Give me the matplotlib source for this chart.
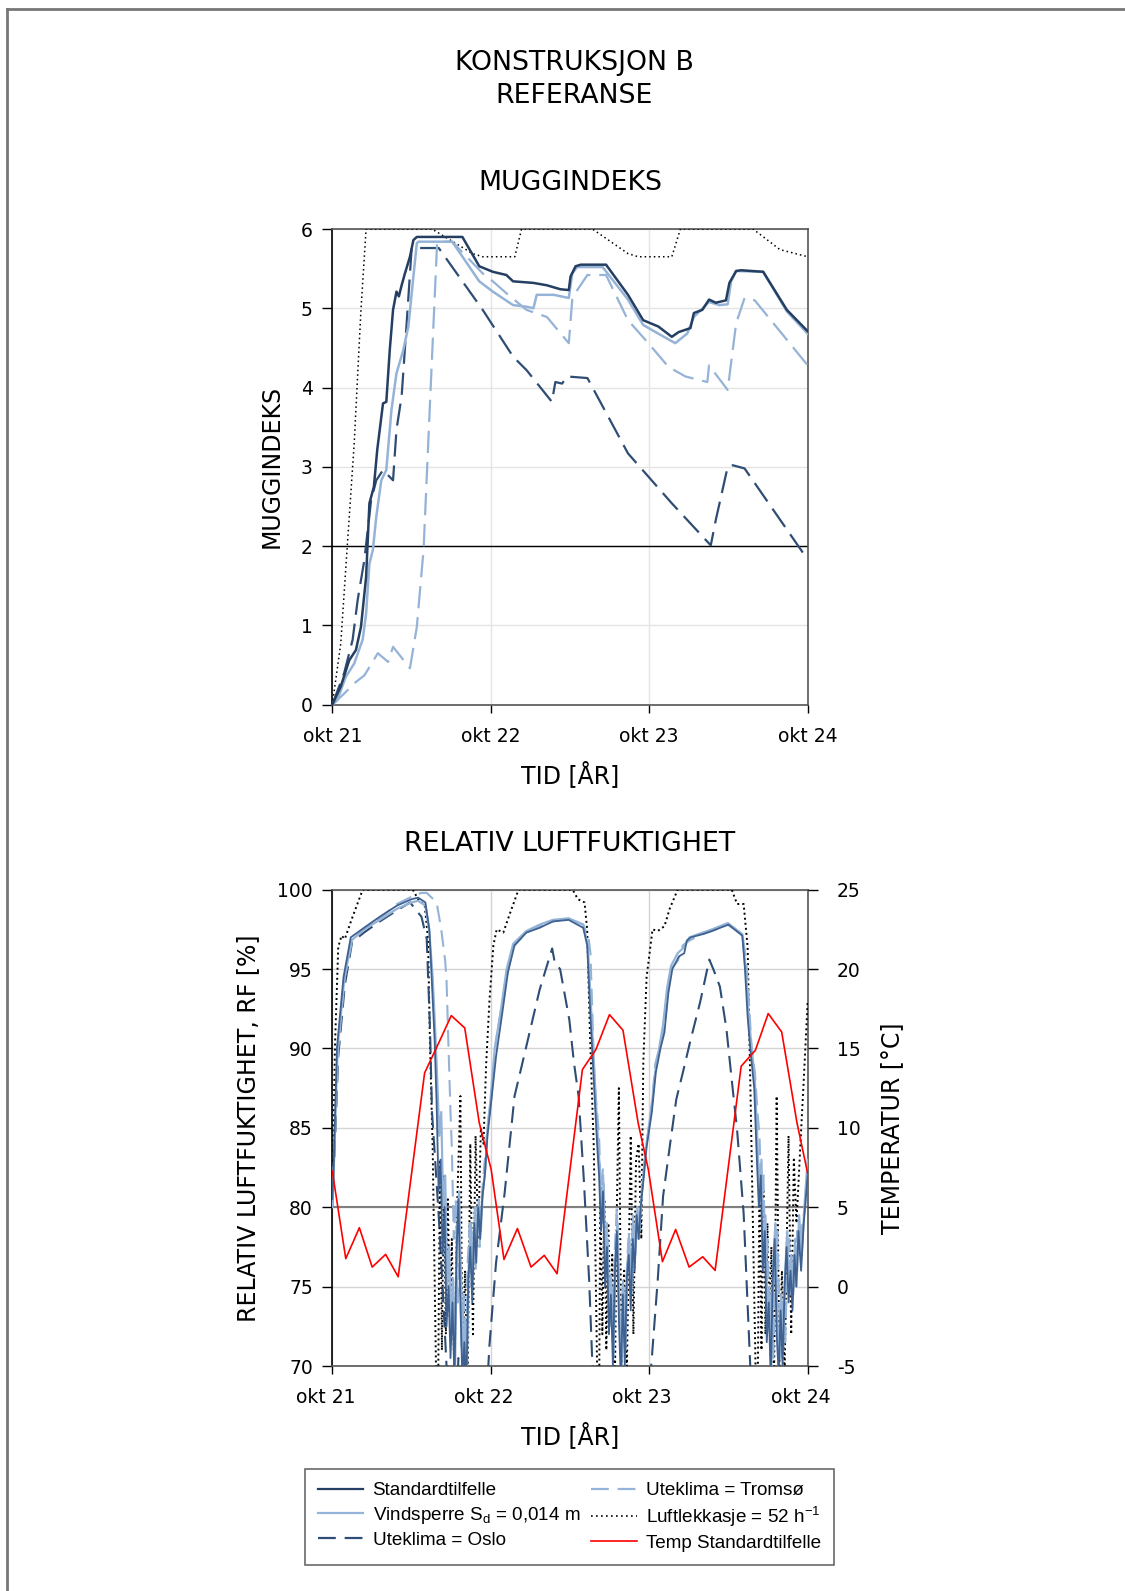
import numpy as np
import matplotlib
matplotlib.use('Agg')
import matplotlib.pyplot as plt
import matplotlib.transforms as mtransforms
from matplotlib.lines import Line2D

plt.rcParams['font.family'] = ['DejaVu Sans']
plt.rcParams['mathtext.default'] = 'regular'
plt.rcParams['axes.unicode_minus'] = False

# time axis in months from okt 21
tick_pos = [0, 12, 24, 36]
tick_lbl = ['okt 21', 'okt 22', 'okt 23', 'okt 24']

# ---- MUGGINDEKS ----
mugg_std_t = [0, 0.64, 1.28, 1.79, 2.17, 2.56, 2.81, 3.15, 3.4, 3.84, 4.09, 4.35, 4.6, 4.86, 5.04, 5.25, 5.5, 5.88,
              6.14, 6.4, 9.85, 11.13, 12.16, 13.18, 13.69, 15.23, 16.25, 17.27, 17.91, 18.04, 18.42, 18.81, 20.73,
              22.39, 23.54, 24.69, 25.71, 26.23, 27.12, 27.38, 28.02, 28.53, 29.04, 29.81, 30.07, 30.58, 30.96,
              32.63, 34.42, 36]
mugg_std = [0, 0.23, 0.56, 0.69, 0.98, 1.61, 2.54, 2.75, 3.21, 3.80, 3.82, 4.47, 4.98, 5.21, 5.15, 5.29, 5.44, 5.65,
            5.86, 5.90, 5.90, 5.53, 5.46, 5.42, 5.34, 5.32, 5.29, 5.24, 5.23, 5.40, 5.53, 5.55, 5.55,
            5.17, 4.85, 4.77, 4.64, 4.70, 4.75, 4.94, 4.98, 5.11, 5.07, 5.10, 5.32, 5.47, 5.48,
            5.46, 4.98, 4.71]

mugg_vind_t = [0, 0.38, 1.02, 1.66, 2.3, 2.56, 2.81, 3.07, 3.33, 3.71, 4.09, 4.48, 4.86, 5.37, 5.76, 6.14, 6.4, 6.53,
               9.08, 11.13, 12.16, 13.69, 14.71, 15.23, 15.48, 16.76, 17.91, 18.17, 18.55, 20.47, 22.39, 23.54,
               24.69, 25.97, 26.87, 27.38, 28.53, 29.3, 29.94, 30.2, 30.58, 32.63, 34.42, 36]
mugg_vind = [0, 0.06, 0.35, 0.52, 0.82, 1.15, 1.78, 1.95, 2.37, 2.83, 2.96, 3.72, 4.18, 4.47, 4.77, 5.40, 5.82, 5.84,
             5.84, 5.34, 5.21, 5.04, 5.02, 5.00, 5.17, 5.17, 5.13, 5.44, 5.52, 5.52, 5.11, 4.79,
             4.68, 4.56, 4.68, 4.89, 5.08, 5.04, 5.05, 5.34, 5.47, 5.46, 4.96, 4.68]

mugg_oslo_t = [0, 0.9, 1.54, 1.92, 2.43, 2.94, 3.33, 3.84, 4.6, 4.86, 5.25, 5.63, 6.01, 8.06, 11.39, 13.69, 14.71,
               16.63, 16.89, 17.4, 17.78, 19.32, 22.39, 25.71, 28.66, 29.04, 29.94, 30.33, 31.22, 36]
mugg_oslo = [0, 0.40, 0.82, 1.32, 1.83, 2.58, 2.83, 2.96, 2.83, 3.47, 3.89, 4.81, 5.76, 5.76, 4.98, 4.39, 4.22,
             3.82, 4.07, 4.05, 4.14, 4.12, 3.17, 2.54, 2.01, 2.33, 3.0, 3.02, 2.98, 1.83]

mugg_troms_t = [0, 0.9, 1.66, 2.43, 3.45, 4.22, 4.6, 5.88, 6.4, 6.91, 7.42, 7.93, 8.06, 9.08, 11.39, 12.16, 13.18,
                14.71, 16.25, 17.91, 18.17, 18.55, 19.32, 20.73, 22.39, 23.93, 25.46, 26.74, 28.4, 28.53, 29.94,
                30.58, 31.22, 31.99, 36]
mugg_troms = [0, 0.14, 0.27, 0.37, 0.65, 0.54, 0.73, 0.46, 0.98, 1.95, 3.89, 5.80, 5.84, 5.84, 5.44, 5.34, 5.19,
              4.98, 4.89, 4.56, 5.11, 5.23, 5.42, 5.42, 4.85, 4.56, 4.26, 4.14, 4.07, 4.28, 3.97,
              4.81, 5.13, 5.10, 4.28]

mugg_luft_t = [0, 0.64, 1.15, 1.66, 2.17, 2.56, 7.55, 10.62, 11.39, 13.82, 14.33, 19.7, 22.39, 23.16, 25.71, 26.36,
               31.86, 33.9, 36]
mugg_luft = [0, 0.77, 2.04, 3.30, 4.98, 6.0, 6.0, 5.69, 5.65, 5.65, 6.0, 6.0, 5.69, 5.65, 5.65, 6.0,
             6.0, 5.74, 5.65]

# ---- RELATIV LUFTFUKTIGHET ----
rf_std_t = [0.0, 0.1, 0.35, 0.85, 1.4, 2.4, 3.6, 4.9, 6.0, 6.5, 7.05, 7.35, 7.55, 7.75, 7.9, 8.05, 8.2, 8.35, 8.5,
            8.65, 8.8, 8.95, 9.1, 9.25, 9.4, 9.55, 9.7, 9.85, 10.0, 10.15, 10.3, 10.45, 10.6, 10.75, 10.9, 11.05,
            11.2, 11.35, 11.55,
            11.75, 11.95, 12.4, 12.9, 13.3, 13.8, 14.7, 15.7, 16.7, 17.9, 19.0, 19.3, 19.55, 19.8, 20.05, 20.2,
            20.35, 20.5, 20.65, 20.8, 20.95, 21.1, 21.25, 21.4, 21.55, 21.7, 21.85, 22.0, 22.15, 22.3, 22.45, 22.6,
            22.75, 22.9, 23.05, 23.2, 23.35,
            23.6, 23.8, 24.2, 24.5, 24.85, 25.15, 25.45, 25.75, 26.25, 26.65, 26.85, 27.15, 28.05, 28.75, 30.0,
            31.05, 31.25, 31.45, 31.65, 31.95, 32.15, 32.3, 32.45, 32.6, 32.75, 32.9, 33.05, 33.2, 33.35, 33.5,
            33.65, 33.8, 33.95, 34.1, 34.25, 34.4, 34.55, 34.7, 34.85, 35.0, 35.15, 35.3, 35.5, 35.7, 35.9, 36.0]
rf_std = [80.5, 82.5, 90.0, 94.5, 97.0, 97.6, 98.3, 99.0, 99.4, 99.5, 99.2, 97.5, 94.0, 90.5, 86.5, 81.0, 83.0, 77.0,
          80.0, 72.5, 75.0, 70.5, 74.0, 69.0, 77.0, 80.5, 74.0, 69.0, 71.5, 68.5, 75.5, 77.5, 74.0, 79.0, 76.5,
          80.0, 78.0, 80.5, 82.0,
          84.5, 86.0, 89.5, 92.4, 94.8, 96.5, 97.3, 97.6, 98.0, 98.1, 97.6, 96.5, 92.0, 88.0, 84.0, 82.0,
          78.5, 81.0, 75.0, 77.5, 72.0, 74.5, 70.0, 76.0, 78.5, 73.0, 69.0, 74.5, 70.0, 75.5, 77.0, 73.5,
          78.0, 76.0, 79.5, 78.0, 80.0,
          82.0, 83.8, 86.0, 88.5, 90.0, 91.0, 93.5, 95.0, 95.8, 96.0, 96.8, 97.0, 97.2, 97.4, 97.8,
          97.1, 95.0, 92.0, 90.0, 87.5, 83.0, 80.0, 82.0, 76.0, 78.5, 71.5, 74.0, 69.0, 75.5, 78.0,
          72.0, 69.5, 73.5, 70.0, 75.0, 77.5, 74.0, 76.0, 73.5, 77.0, 75.0, 78.5, 76.0, 79.0, 81.0, 82.0]

rf_vind_t = [0.0, 0.1, 0.4, 0.9, 1.45, 2.4, 3.6, 4.9, 6.0, 6.5, 7.05, 7.35, 7.6, 7.8, 7.95, 8.1, 8.25, 8.4, 8.55,
             8.7, 8.85, 9.0, 9.15, 9.3, 9.45, 9.6, 9.75, 9.9, 10.05, 10.2, 10.35, 10.5, 10.65, 10.8, 10.95, 11.1,
             11.25, 11.4, 11.6,
             11.75, 11.95, 12.3, 12.8, 13.2, 13.7, 14.7, 15.7, 16.7, 17.9, 19.0, 19.35, 19.6, 19.85, 20.1, 20.25,
             20.4, 20.55, 20.7, 20.85, 21.0, 21.15, 21.3, 21.45, 21.6, 21.75, 21.9, 22.05, 22.2, 22.35, 22.5, 22.65,
             22.8, 22.95, 23.1, 23.25, 23.4,
             23.6, 23.8, 24.2, 24.45, 24.75, 25.05, 25.35, 25.65, 26.15, 26.55, 27.05, 28.05, 28.75, 29.95, 31.05,
             31.3, 31.5, 31.7, 32.0, 32.2, 32.35, 32.5, 32.65, 32.8, 32.95, 33.1, 33.25, 33.4, 33.55, 33.7, 33.85,
             34.0, 34.15, 34.3, 34.45, 34.6, 34.75, 34.9, 35.05, 35.2, 35.35, 35.55, 35.75, 35.95, 36.0]
rf_vind = [80.0, 82.0, 90.0, 94.3, 96.8, 97.5, 98.1, 98.8, 99.2, 99.3, 99.0, 97.3, 94.5, 91.0, 88.0, 84.5, 86.0, 80.0,
           82.0, 75.0, 77.5, 72.0, 75.5, 70.0, 78.5, 81.0, 75.5, 70.5, 73.0, 70.0, 77.0, 79.0, 75.5, 80.0, 77.5,
           80.5, 78.5, 81.0, 82.5,
           85.0, 86.5, 90.0, 92.6, 95.0, 96.6, 97.4, 97.8, 98.1, 98.2, 97.8, 96.5, 92.5, 88.5, 84.5, 82.5,
           79.0, 81.5, 75.5, 78.0, 72.5, 75.0, 70.5, 77.0, 79.0, 73.5, 70.0, 75.0, 71.0, 76.5, 78.0, 74.5,
           79.0, 77.0, 80.0, 78.5, 80.5,
           82.5, 84.0, 86.5, 88.5, 90.0, 91.5, 93.8, 95.2, 96.0, 96.3, 97.0, 97.3, 97.5, 97.9, 97.2,
           95.0, 92.5, 90.5, 88.0, 84.0, 81.0, 83.0, 77.0, 79.5, 72.5, 75.0, 70.0, 76.5, 79.0, 73.0, 70.5,
           74.5, 71.0, 76.0, 78.5, 75.0, 77.0, 74.5, 78.0, 76.0, 79.5, 77.0, 80.0, 82.5, 83.0]

rf_oslo_t = [0.0, 0.15, 0.45, 0.95, 1.5, 2.4, 3.6, 4.9, 5.9, 6.25, 6.75, 7.15, 7.4, 7.55, 8.05, 8.45, 8.65, 8.95,
             9.35, 9.55, 9.7, 10.05, 10.25, 10.85, 11.5, 11.75, 11.9,
             12.4, 13.05, 13.8, 14.4, 15.7, 16.65, 16.85, 17.25, 17.95, 18.3, 18.65, 19.05, 19.45, 19.7, 20.0,
             21.0, 22.0, 23.0, 23.7,
             24.15, 24.65, 25.05, 25.55, 26.05, 26.55, 27.15, 27.85, 28.55, 28.85, 29.35, 29.85, 30.25, 30.65,
             31.15, 31.65, 32.0, 33.0, 34.5, 35.5, 36.0]
rf_oslo = [80.0, 83.0, 89.5, 94.0, 96.7, 97.3, 98.0, 98.7, 99.2, 98.8, 98.3, 96.9, 91.2, 86.0, 79.6, 73.4, 70.0, 67.0,
           66.0, 70.5, 68.0, 70.8, 68.5, 64.0, 66.0, 69.0, 71.3,
           76.5, 80.9, 87.0, 89.1, 93.7, 96.3, 95.4, 95.0, 91.8, 89.1, 87.0, 81.7, 75.4, 70.0, 64.0,
           60.0, 58.0, 60.0, 65.0,
           70.0, 75.5, 80.7, 83.8, 86.8, 88.5, 90.6, 92.9, 95.6, 95.0, 93.9, 91.2, 88.0, 84.9,
           79.6, 70.0, 64.0, 60.0, 60.0, 63.0, 66.0]

rf_troms_t = [0.0, 0.15, 0.45, 0.95, 1.5, 2.4, 3.6, 4.9, 6.1, 6.75, 7.15, 7.65, 7.9, 8.25, 8.55, 8.65, 8.8, 8.95,
              9.05, 9.2, 9.35, 9.5, 9.65, 9.8, 9.95, 10.1, 10.25, 10.4, 10.55, 10.7, 10.85, 11.0, 11.15, 11.35,
              11.55,
              11.75, 12.05, 12.4, 12.8, 13.2, 13.7, 14.7, 15.7, 16.7, 17.9, 19.0, 19.4, 19.55, 19.7, 19.85, 20.0,
              20.2, 20.35, 20.5, 20.65, 20.8, 20.95, 21.1, 21.25, 21.4, 21.55, 21.7, 21.85, 22.0, 22.15, 22.3,
              22.45, 22.6, 22.75, 22.9, 23.05, 23.2, 23.4,
              23.6, 23.8, 24.2, 24.45, 24.75, 25.05, 25.35, 25.65, 26.15, 26.55, 27.05, 28.05, 28.75, 29.95, 31.05,
              31.35, 31.55, 31.75, 32.0, 32.2, 32.35, 32.5, 32.65, 32.8, 32.95, 33.1, 33.25, 33.4, 33.55, 33.7,
              33.85, 34.0, 34.15, 34.3, 34.45, 34.6, 34.75, 34.9, 35.05, 35.2, 35.4, 35.6, 35.8, 36.0]
rf_troms = [80.0, 84.0, 90.0, 94.5, 96.8, 97.5, 98.2, 99.1, 99.6, 99.8, 99.8, 99.4, 99.2, 97.5, 95.5, 94.3, 90.1, 86.0,
            83.8, 78.0, 80.5, 74.0, 77.0, 71.0, 74.5, 70.0, 76.5, 79.0, 75.0, 78.5, 76.0, 80.0, 77.5, 81.0,
            83.0,
            85.0, 87.0, 90.5, 92.5, 94.5, 96.4, 97.3, 97.7, 98.0, 98.2, 97.8, 97.0, 96.0, 92.0, 88.0, 86.5,
            84.5, 80.5, 82.5, 76.5, 79.0, 73.0, 76.0, 71.0, 77.5, 80.0, 74.5, 70.5, 75.5, 71.5, 76.0,
            78.5, 75.0, 79.5, 77.5, 80.0, 78.0, 80.5,
            82.5, 84.0, 86.5, 89.0, 90.0, 91.0, 93.5, 95.0, 95.5, 96.5, 96.8, 97.2, 97.4, 97.8, 97.2,
            95.5, 93.0, 90.0, 88.5, 86.0, 84.5, 80.0, 82.0, 76.0, 78.0, 72.0, 74.5, 70.5, 76.5, 78.5,
            73.5, 70.5, 74.0, 71.5, 76.5, 78.0, 74.5, 77.0, 75.0, 78.5, 77.0, 79.0, 80.0, 82.5]

rf_luft_t = [0.0, 0.2, 0.45, 0.7, 0.95, 1.45, 2.3, 6.1, 6.5, 7.0, 7.25, 7.4, 7.6, 7.85, 8.0, 8.15, 8.3, 8.45, 8.6,
             8.75, 8.9, 9.05, 9.25, 9.45, 9.7, 9.85, 10.05, 10.25, 10.45, 10.65, 10.85, 11.05, 11.25, 11.45, 11.65,
             11.9, 12.2, 12.45, 12.95, 13.45, 14.1, 18.2, 18.6, 19.1, 19.3, 19.5, 19.8, 20.05, 20.2, 20.3, 20.45,
             20.6, 20.75, 20.9, 21.05, 21.2, 21.4, 21.55, 21.7, 21.9, 22.1, 22.3, 22.6, 22.8, 23.0, 23.2, 23.4,
             23.55, 23.8, 24.25, 24.65, 25.15, 25.55, 26.15, 30.25, 30.65, 31.15, 31.45, 31.65, 32.05, 32.2, 32.35,
             32.5, 32.65, 32.8, 32.95, 33.1, 33.25, 33.45, 33.65, 33.85, 34.05, 34.25, 34.55, 34.75, 34.95, 35.15,
             35.45, 35.7, 36.0]
rf_luft = [80.0, 90.1, 96.4, 97.1, 96.9, 98.1, 100.0, 100.0, 99.4, 99.0, 96.9, 90.1, 83.8, 70.0, 67.0, 83.0, 71.0,
           82.0, 72.0, 80.5, 73.0, 78.0, 69.0, 80.0, 87.0, 70.0, 76.0, 69.0, 84.0, 72.0, 84.5, 78.0, 85.0, 84.0,
           89.0, 93.0, 96.5, 97.5, 97.3, 98.5, 100.0, 100.0, 99.4, 99.2, 97.5, 91.2, 83.8, 70.0, 67.0, 82.0, 72.0,
           80.5, 71.0, 79.0, 73.0, 77.0, 69.0, 80.0, 87.5, 70.0, 76.0, 69.5, 84.5, 72.0, 83.0, 84.0, 78.0,
           89.1, 94.5, 97.5, 97.4, 97.7, 98.8, 100.0, 100.0, 99.1, 99.1, 96.4, 88.0, 70.0, 67.0, 82.0,
           71.0, 81.0, 72.0, 79.0, 73.0, 77.5, 69.0, 87.0, 70.0, 76.0, 69.5, 84.5, 72.0, 83.0, 79.0,
           84.0, 88.0, 93.0]

temp_t = [0, 1.02, 2.05, 3.02, 4.04, 4.99, 6.99, 8.06, 9.01, 10.03, 11.13, 12.03, 13.0, 14.02, 15.05, 16.05, 17.02,
          18.94, 19.96, 20.99, 22.01, 23.16, 23.93, 25.0, 26.0, 27.02, 28.05, 28.99, 30.96, 32.04, 33.01, 34.03,
          35.19, 36]
temp = [7.27, 1.76, 3.71, 1.23, 2.03, 0.62, 13.46, 15.35, 17.07, 16.29, 10.31, 7.38, 1.71, 3.66, 1.23, 1.97, 0.81,
        13.67, 14.93, 17.13, 16.15, 10.31, 7.38, 1.57, 3.60, 1.23, 1.88, 1.02, 13.88, 14.89, 17.20, 16.04,
        10.31, 7.13]

labels = ['Standardtilfelle', 'Vindsperre S$_d$ = 0,014 m', 'Uteklima = Oslo',
          'Uteklima = Tromsø', 'Luftlekkasje = 52 h$^{-1}$', 'Temp Standardtilfelle']

c_std = '#243F62'
c_vind = '#95B3D7'
c_oslo = '#2E4D74'
c_troms = '#95B3D7'
c_luft = '#000000'
c_temp = '#FF0000'

W, H = 1125, 1591
fig = plt.figure(figsize=(W / 100, H / 100), dpi=100)

# frame around the page
fig.add_artist(Line2D([7 / W, 7 / W], [0, 1 - 9 / H], color='#777777', lw=2))
fig.add_artist(Line2D([7 / W, 1], [1 - 9 / H, 1 - 9 / H], color='#777777', lw=2))

fig.text(574 / W, 1 - 63 / H, 'KONSTRUKSJON B', ha='center', va='center', fontsize=19.3)
fig.text(574 / W, 1 - 96 / H, 'REFERANSE', ha='center', va='center', fontsize=19.3)
fig.text(570 / W, 1 - 183 / H, 'MUGGINDEKS', ha='center', va='center', fontsize=19.3)
fig.text(570 / W, 1 - 844 / H, 'RELATIV LUFTFUKTIGHET', ha='center', va='center', fontsize=19.3)


def style_axes(ax):
    ax.set_xlim(0, 36)
    ax.set_xticks(tick_pos)
    ax.set_xticklabels(tick_lbl)
    ax.tick_params(axis='x', direction='out', length=5.5, width=1, pad=10.5, labelsize=13.5)
    ax.tick_params(axis='y', direction='out', length=7, width=1, pad=7, labelsize=13.5)
    for s in ax.spines.values():
        s.set_color('#555555')
        s.set_linewidth(1.2)
    ax.spines['left'].set_color('black')


# ---- top chart ----
ax1 = fig.add_axes([332.3 / W, 1 - 704.7 / H, 475.4 / W, 475.7 / H])
style_axes(ax1)
ax1.set_ylim(0, 6)
ax1.set_yticks(range(0, 7))
ax1.grid(True, color='#e4e4e4', lw=1)
ax1.set_axisbelow(True)
ax1.axhline(2, color='black', lw=1, zorder=2)
ax1.plot(mugg_luft_t, mugg_luft, color=c_luft, lw=1.1, ls=(0, (1, 2)), zorder=3)
ax1.plot(mugg_oslo_t, mugg_oslo, color=c_oslo, lw=1.6, ls=(0, (10, 4)), zorder=4)
ax1.plot(mugg_troms_t, mugg_troms, color=c_troms, lw=1.6, ls=(0, (10, 4)), zorder=4)
ax1.plot(mugg_vind_t, mugg_vind, color=c_vind, lw=1.8, zorder=5)
ax1.plot(mugg_std_t, mugg_std, color=c_std, lw=1.8, zorder=6)
ax1.set_ylabel('MUGGINDEKS', fontsize=17, va='center')
ax1.yaxis.set_label_coords(-0.128, 0.5)
ax1.set_xlabel('TID [ÅR]', fontsize=17, va='center')
ax1.xaxis.set_label_coords(0.5, -0.147)

# ---- bottom chart ----
ax2 = fig.add_axes([332.3 / W, 1 - 1366 / H, 475.4 / W, 476.3 / H])
style_axes(ax2)
ax2.set_ylim(70, 100)
ax2.set_yticks(range(70, 101, 5))
ax2.grid(True, color='#d4d4d4', lw=1)
ax2.set_axisbelow(True)
ax2.axhline(80, color='#808080', lw=1.5, zorder=2)
ax2.plot(rf_luft_t, rf_luft, color=c_luft, lw=1.4, ls=(0, (1, 1.6)), zorder=3)
ax2.plot(rf_oslo_t, rf_oslo, color=c_oslo, lw=1.5, ls=(0, (8, 4)), zorder=4)
ax2.plot(rf_troms_t, rf_troms, color=c_troms, lw=1.5, ls=(0, (8, 4)), zorder=4)
ax2.plot(rf_vind_t, rf_vind, color=c_vind, lw=1.6, zorder=5)
ax2.plot(rf_std_t, rf_std, color='#3E6190', lw=1.3, zorder=6)
ax2.set_ylabel('RELATIV LUFTFUKTIGHET, RF [%]', fontsize=17, va='center')
ax2.yaxis.set_label_coords(-0.178, 0.5)
ax2.set_xlabel('TID [ÅR]', fontsize=17, va='center')
ax2.xaxis.set_label_coords(0.5, -0.1455)
shift = mtransforms.ScaledTranslation(-7 / 100, 0, fig.dpi_scale_trans)
for lbl in ax2.get_xticklabels():
    lbl.set_transform(lbl.get_transform() + shift)

ax3 = ax2.twinx()
ax3.set_xlim(0, 36)
ax3.set_ylim(-5, 25)
ax3.set_yticks(range(-5, 26, 5))
ax3.tick_params(axis='y', direction='out', length=7, width=1, pad=14, labelsize=13.5)
for s in ax3.spines.values():
    s.set_visible(False)
ax3.plot(temp_t, temp, color=c_temp, lw=1.2, zorder=7)
ax3.set_ylabel('TEMPERATUR [°C]', fontsize=17, va='center')
ax3.yaxis.set_label_coords(1.178, 0.5)

# legend
leg_std = Line2D([], [], color=c_std, lw=1.6)
leg_vind = Line2D([], [], color=c_vind, lw=1.6)
leg_oslo = Line2D([], [], color=c_oslo, lw=1.6, ls=(0, (8, 4)))
leg_troms = Line2D([], [], color=c_troms, lw=1.6, ls=(0, (8, 4)))
leg_luft = Line2D([], [], color=c_luft, lw=1.2, ls=(0, (1, 2)))
leg_temp = Line2D([], [], color=c_temp, lw=1.2)
leg = fig.legend([leg_std, leg_vind, leg_oslo, leg_troms, leg_luft, leg_temp], labels,
                 ncol=2, loc='center', bbox_to_anchor=(569.5 / W, 1 - 1517 / H),
                 prop={'family': 'Liberation Sans', 'size': 13.6},
                 fancybox=False, frameon=True, edgecolor='#444444',
                 handlelength=2.4, handletextpad=0.5, columnspacing=0.6,
                 labelspacing=0.3, borderpad=0.7)
leg.get_frame().set_linewidth(1.2)

fig.savefig('out.png', dpi=100)
